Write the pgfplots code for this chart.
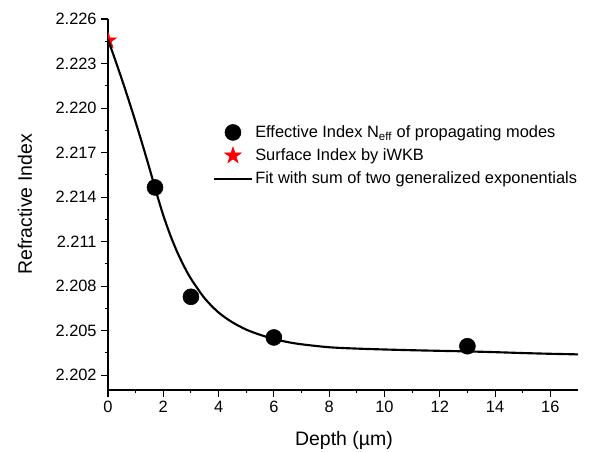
\documentclass[border=0pt]{standalone}
\usepackage{fontspec}
\setmainfont{Liberation Sans}
\usepackage{pgfplots}
\pgfplotsset{compat=1.18}

% filled five-pointed star
\pgfdeclareplotmark{fstar}{%
  \pgfpathmoveto{\pgfpointpolar{90}{\pgfplotmarksize}}%
  \pgfpathlineto{\pgfpointpolar{126}{0.382*\pgfplotmarksize}}%
  \pgfpathlineto{\pgfpointpolar{162}{\pgfplotmarksize}}%
  \pgfpathlineto{\pgfpointpolar{198}{0.382*\pgfplotmarksize}}%
  \pgfpathlineto{\pgfpointpolar{234}{\pgfplotmarksize}}%
  \pgfpathlineto{\pgfpointpolar{270}{0.382*\pgfplotmarksize}}%
  \pgfpathlineto{\pgfpointpolar{306}{\pgfplotmarksize}}%
  \pgfpathlineto{\pgfpointpolar{342}{0.382*\pgfplotmarksize}}%
  \pgfpathlineto{\pgfpointpolar{18}{\pgfplotmarksize}}%
  \pgfpathlineto{\pgfpointpolar{54}{0.382*\pgfplotmarksize}}%
  \pgfpathclose
  \pgfusepathqfillstroke}

\pgfplotsset{longline legend/.style={legend image code/.code={\draw[##1] (-0.19cm,0cm) -- (0.79cm,0cm);}}}

\begin{document}
\begin{tikzpicture}
\begin{axis}[
  scale only axis,
  width=352.5pt, height=278.25pt,
  xmin=0, xmax=17, ymin=2.201, ymax=2.226,
  axis lines=left,
  axis line style={-, line width=0.9pt},
  xtick={0,2,...,16}, minor x tick num=1,
  ytick={2.202,2.205,2.208,2.211,2.214,2.217,2.220,2.223,2.226},
  minor y tick num=1,
  tick align=outside,
  major tick length=5pt, minor tick length=2.5pt,
  tick style={line width=0.8pt, black},
  scaled y ticks=false,
  /pgf/number format/assume math mode=true,
  yticklabel style={/pgf/number format/fixed, /pgf/number format/fixed zerofill, /pgf/number format/precision=3},
  ticklabel style={font=\fontsize{12.3}{14}\selectfont},
  xlabel={Depth (µm)},
  ylabel={Refractive Index},
  label style={font=\fontsize{14.6}{17}\selectfont},
  xlabel style={at={(axis description cs:0.502,-0.135)}, anchor=center},
  ylabel style={at={(axis description cs:-0.177,0.5)}, anchor=center},
  clip marker paths=true,
  legend cell align=left,
  legend style={draw=none, fill=none, at={(axis description cs:0.215,0.728)}, anchor=north west,
    font=\fontsize{12.3}{14}\selectfont, row sep=3pt},
]
\addplot[only marks, mark=*, mark size=6pt, black]
  coordinates {(1.7,2.21465)(3.0,2.20728)(6.0,2.20454)(13.0,2.20395)};
\addlegendentry{Effective Index N\textsubscript{eff} of propagating modes}

\addplot[only marks, mark=fstar, mark size=6.5pt, red]
  coordinates {(0,2.22454)};
\addlegendentry{Surface Index by iWKB}

\addplot[black, line width=1.6pt, smooth, no marks, longline legend]
  coordinates {
  (0,2.2246)(0.25,2.22330)(0.5,2.22194)(0.75,2.22052)(1.0,2.21905)(1.25,2.21752)
  (1.5,2.21594)(1.75,2.21430)(2.0,2.21277)(2.25,2.21145)(2.5,2.21031)(2.75,2.20934)
  (3.0,2.20850)(3.5,2.20717)(4.0,2.20622)(4.5,2.20556)
  (5.0,2.20507)(5.5,2.20472)(6.0,2.20444)(6.5,2.20423)(7,2.20408)(8,2.20388)
  (9,2.20379)(10,2.20373)(11,2.20368)(12,2.20364)(13,2.20360)(14,2.20355)
  (15,2.20349)(16,2.20344)(17,2.2034)};
\addlegendentry{Fit with sum of two generalized exponentials}
\end{axis}
\pgfresetboundingbox
\path ([shift={(-81pt,-46.5pt)}]current axis.south west) rectangle ([shift={(12.75pt,14.25pt)}]current axis.north east);
\end{tikzpicture}
\end{document}
